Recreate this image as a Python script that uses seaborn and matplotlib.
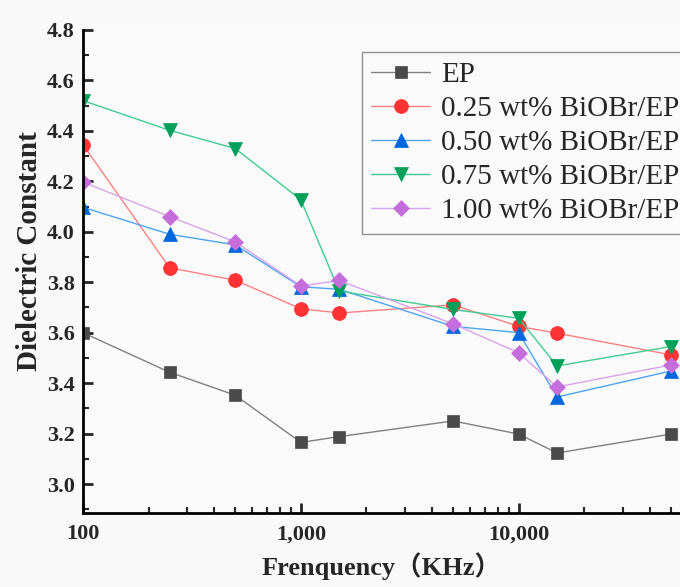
import matplotlib
matplotlib.use("Agg")
import matplotlib.pyplot as plt
import matplotlib.ticker as mticker
import seaborn as sns
import numpy as np

freq = [100, 250, 500, 1000, 1500, 5000, 10000, 15000, 50000]
ep = [3.60, 3.443, 3.352, 3.165, 3.188, 3.250, 3.198, 3.123, 3.198]
w025 = [4.345, 3.857, 3.808, 3.695, 3.678, 3.710, 3.625, 3.598, 3.512]
w050 = [4.097, 3.990, 3.948, 3.782, 3.772, 3.625, 3.600, 3.345, 3.448]
w075 = [4.520, 4.402, 4.330, 4.127, 3.765, 3.692, 3.657, 3.468, 3.545]
w100 = [4.197, 4.060, 3.960, 3.785, 3.807, 3.635, 3.520, 3.385, 3.472]
labels = ["EP", "0.25 wt% BiOBr/EP", "0.50 wt% BiOBr/EP",
          "0.75 wt% BiOBr/EP", "1.00 wt% BiOBr/EP"]

series = [ep, w025, w050, w075, w100]
markers = ["s", "o", "^", "v", "D"]
msizes = [8, 10, 10, 10, 8.5]
mcolors = ["#4a4a4a", "#ff3333", "#0066dd", "#00a05a", "#c56edb"]
lcolors = ["#808080", "#ff8080", "#4da3f0", "#40cc90", "#d8a2ec"]

sns.set_style("ticks")
plt.rcParams['font.family'] = ['Liberation Serif', 'Noto Sans CJK SC']

fig = plt.figure(figsize=(6.8, 5.87), dpi=100, facecolor="#f9f9f9")
ax = fig.add_axes([0.122, 0.126, 0.878, 0.823])
ax.set_facecolor("#fafafa")

for vals, lab, m, ms, mc, lc in zip(series, labels, markers, msizes, mcolors, lcolors):
    sns.lineplot(x=freq, y=vals, ax=ax, color=lc, linewidth=1.0, marker=m,
                 markersize=ms, markerfacecolor=mc, markeredgecolor=mc,
                 markeredgewidth=0.5, label=lab)

ax.set_xscale("log")
ax.set_xlim(100, 55000)
ax.set_ylim(2.885, 4.8)
ax.set_yticks([3.0, 3.2, 3.4, 3.6, 3.8, 4.0, 4.2, 4.4, 4.6, 4.8])
ax.yaxis.set_minor_locator(mticker.MultipleLocator(0.1))
ax.yaxis.set_major_formatter(mticker.FormatStrFormatter("%.1f"))
ax.xaxis.set_major_locator(mticker.FixedLocator([100, 1000, 10000]))
ax.xaxis.set_major_formatter(mticker.FuncFormatter(lambda v, p: f"{int(round(v)):,}"))
ax.xaxis.set_minor_locator(mticker.LogLocator(base=10, subs=np.arange(2, 10)))
ax.xaxis.set_minor_formatter(mticker.NullFormatter())

ax.tick_params(axis="both", which="major", direction="in", length=7, width=2,
               labelsize=16)
ax.tick_params(axis="y", which="major", pad=6)
ax.tick_params(axis="x", which="major", pad=8)
ax.tick_params(axis="both", which="minor", direction="in", length=4, width=1.5)
for t in ax.get_xticklabels() + ax.get_yticklabels():
    t.set_fontweight("bold")

for s in ["top", "right"]:
    ax.spines[s].set_visible(False)
for s in ["left", "bottom"]:
    ax.spines[s].set_linewidth(2)
    ax.spines[s].set_color("black")

ax.set_xlabel("Frenquency（KHz）", fontsize=19, fontweight="bold", labelpad=6)
ax.set_ylabel("Dielectric Constant", fontsize=21, fontweight="bold")
ax.yaxis.set_label_coords(-0.067, 0.542)

leg = ax.legend(loc="upper left", bbox_to_anchor=(0.532, 0.911),
                bbox_transform=fig.transFigure, fontsize=21, frameon=True,
                fancybox=False, edgecolor="#777777", handlelength=2.0,
                labelspacing=0.26, borderpad=0.33, handletextpad=0.4,
                borderaxespad=0)
leg.get_frame().set_linewidth(1.0)
leg.get_frame().set_facecolor("#fafafa")

fig.savefig("out.png", dpi=100, facecolor=fig.get_facecolor())
